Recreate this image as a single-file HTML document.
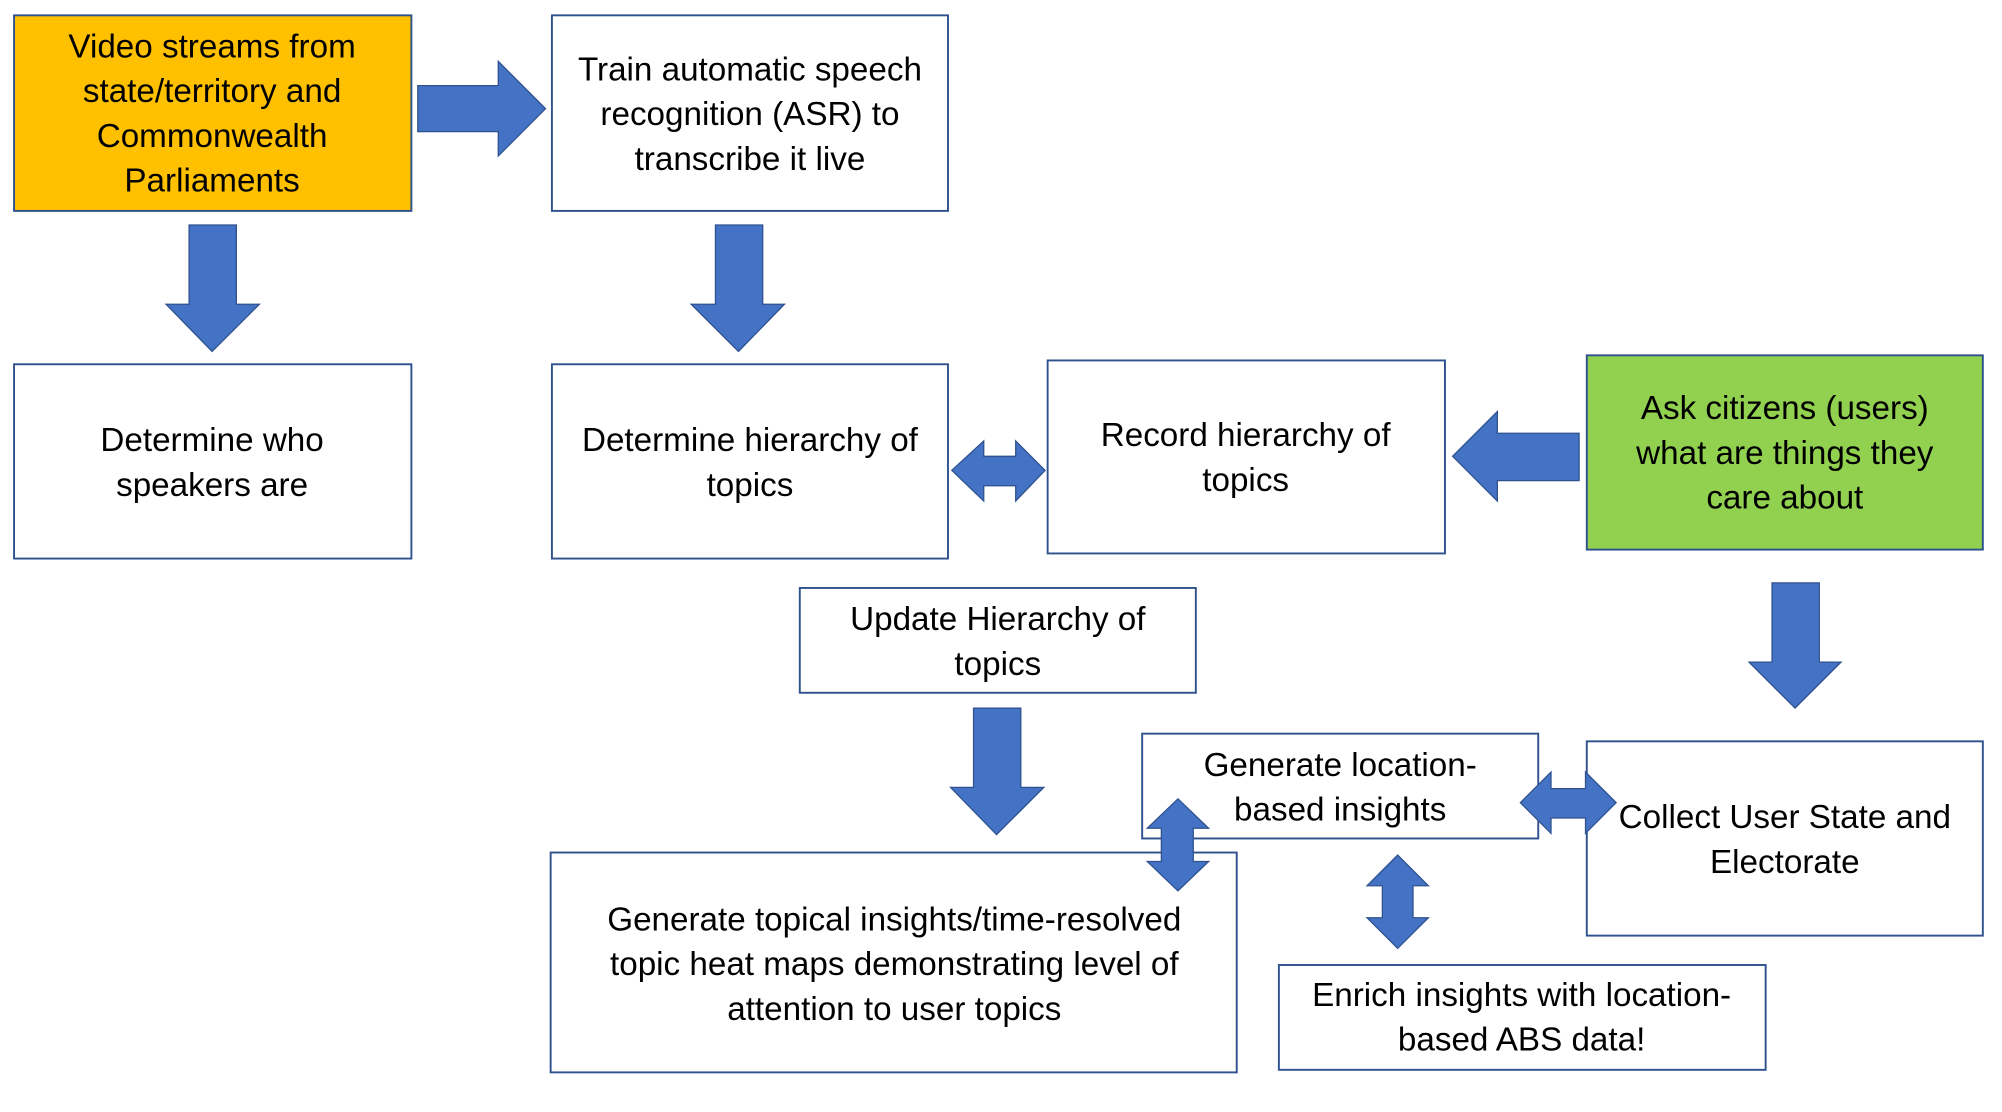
<!DOCTYPE html>
<html><head><meta charset="utf-8"><style>
html,body{margin:0;padding:0;background:#fff;width:2002px;height:1112px;overflow:hidden}
svg{display:block}
text{font-family:"Liberation Sans",sans-serif;font-size:26px;fill:#000;text-anchor:middle}
.b{fill:#fff;stroke:#2F528F;stroke-width:1.5}
.a{fill:#4472C4;stroke:#2F528F;stroke-width:1}
</style></head><body>
<svg width="2002" height="1112" viewBox="0 0 1567 870" preserveAspectRatio="none">
<rect class="b" x="11" y="12" width="311" height="153" style="fill:#FFC000"/>
<text x="166" y="45">Video streams from</text><text x="166" y="80">state/territory and</text><text x="166" y="115">Commonwealth</text><text x="166" y="150">Parliaments</text>
<polygon class="a" points="327,67 390,67 390,48 427,85 390,122 390,103 327,103"/>
<rect class="b" x="432" y="12" width="310" height="153"/>
<text x="587" y="63">Train automatic speech</text><text x="587" y="98">recognition (ASR) to</text><text x="587" y="133">transcribe it live</text>
<polygon class="a" points="148,176 185,176 185,238 203,238 166,275 130,238 148,238"/>
<polygon class="a" points="560,176 597,176 597,238 614,238 578,275 541,238 560,238"/>
<rect class="b" x="11" y="285" width="311" height="152"/>
<text x="166" y="353">Determine who</text><text x="166" y="388">speakers are</text>
<rect class="b" x="432" y="285" width="310" height="152"/>
<text x="587" y="353">Determine hierarchy of</text><text x="587" y="388">topics</text>
<polygon class="a" points="745,368 770,345 770,357 795,357 795,345 818,368 795,392 795,380 770,380 770,392"/>
<rect class="b" x="820" y="282" width="311" height="151"/>
<text x="975" y="349">Record hierarchy of</text><text x="975" y="384">topics</text>
<polygon class="a" points="1236,339 1172,339 1172,322 1137,357 1172,392 1172,376 1236,376"/>
<rect class="b" x="1242" y="278" width="310" height="152" style="fill:#92D050"/>
<text x="1397" y="328">Ask citizens (users)</text><text x="1397" y="363">what are things they</text><text x="1397" y="398">care about</text>
<polygon class="a" points="1387,456 1424,456 1424,518 1441,518 1405,554 1369,518 1387,518"/>
<rect class="b" x="626" y="460" width="310" height="82"/>
<text x="781" y="493">Update Hierarchy of</text><text x="781" y="528">topics</text>
<polygon class="a" points="762,554 799,554 799,616 817,616 780,653 744,616 762,616"/>
<rect class="b" x="431" y="667" width="537" height="172"/>
<text x="700" y="728">Generate topical insights/time-resolved</text><text x="700" y="763">topic heat maps demonstrating level of</text><text x="700" y="798">attention to user topics</text>
<rect class="b" x="894" y="574" width="310" height="82"/>
<text x="1049" y="607">Generate location-</text><text x="1049" y="642">based insights</text>
<polygon class="a" points="922,625 946,648 934,648 934,674 946,674 922,697 898,674 909,674 909,648 898,648"/>
<rect class="b" x="1242" y="580" width="310" height="152"/>
<text x="1397" y="648">Collect User State and</text><text x="1397" y="683">Electorate</text>
<polygon class="a" points="1190,628 1214,604 1214,617 1241,617 1241,604 1265,628 1241,652 1241,640 1214,640 1214,652"/>
<polygon class="a" points="1094,669 1118,693 1106,693 1106,718 1118,718 1094,742 1070,718 1082,718 1082,693 1070,693"/>
<rect class="b" x="1001" y="755" width="381" height="82"/>
<text x="1191" y="787">Enrich insights with location-</text><text x="1191" y="822">based ABS data!</text>
</svg>
</body></html>
